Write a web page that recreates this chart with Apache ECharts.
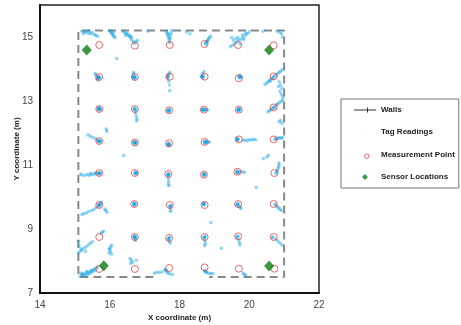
<!DOCTYPE html>
<html>
<head>
<meta charset="utf-8">
<script src="https://cdn.jsdelivr.net/npm/echarts@6/dist/echarts.min.js"></script>
<style>html,body{margin:0;padding:0;background:#fff}#c{width:461px;height:325px}</style>
</head>
<body>
<div id="c"></div>
<script>
// ---- data ----
var xTicks = [14, 16, 18, 20, 22];
var yTicks = [7, 9, 11, 13, 15];

var wallsMain = [[17.25, 7.5], [15.1, 7.5], [15.1, 15.2], [21.0, 15.2], [21.0, 7.5], [18.85, 7.5]];

var measurementPoints = [
  [15.70,14.75],[16.72,14.73],[17.72,14.75],[18.72,14.78],[19.68,14.75],[20.70,14.74],
  [15.70,13.75],[16.72,13.75],[17.72,13.76],[18.72,13.76],[19.70,13.71],[20.70,13.77],
  [15.70,12.75],[16.72,12.75],[17.70,12.71],[18.70,12.73],[19.70,12.73],[20.70,12.80],
  [15.70,11.75],[16.72,11.70],[17.70,11.68],[18.72,11.72],[19.70,11.80],[20.70,11.80],
  [15.70,10.75],[16.72,10.75],[17.68,10.72],[18.70,10.70],[19.66,10.79],[20.72,10.75],
  [15.70,9.75],[16.70,9.78],[17.72,9.75],[18.72,9.75],[19.68,9.78],[20.70,9.78],
  [15.70,8.75],[16.72,8.75],[17.70,8.72],[18.72,8.75],[19.68,8.77],[20.70,8.75],
  [15.70,7.75],[16.72,7.75],[17.70,7.78],[18.72,7.80],[19.70,7.76],[20.72,7.76]
];

var sensorLocations = [[15.34,14.59],[20.57,14.59],[15.83,7.85],[20.57,7.84]];

var tagReadings = [
  // top wall streaks and top row
  [15.20,15.18],[15.28,15.15],[15.33,15.17],[15.38,15.12],[15.45,15.10],[15.50,15.14],[15.55,15.08],[15.60,15.05],[15.42,15.19],[15.65,15.02],[15.25,15.10],
  [16.00,15.20],[16.03,15.15],[16.06,15.10],[16.09,15.05],[16.12,15.02],[16.15,14.98],[16.05,15.18],[16.10,15.12],
  [16.38,15.18],[16.42,15.14],[16.47,15.10],[16.52,15.06],[16.56,15.02],[16.60,14.96],[16.64,14.90],[16.68,14.84],[16.72,14.80],[16.50,15.12],[16.58,15.04],[16.45,15.05],[16.62,15.00],[16.75,14.86],[16.80,14.90],[16.20,14.33],
  [17.62,15.18],[17.64,15.12],[17.66,15.06],[17.68,15.00],[17.70,14.94],[17.71,14.88],[17.72,14.82],[17.78,15.20],[17.76,15.12],[17.74,15.04],[17.73,14.96],[17.69,15.10],
  [18.74,14.80],[18.77,14.85],[18.80,14.90],[18.83,14.94],[18.86,14.98],[18.89,15.02],[18.80,14.86],[18.76,14.78],
  [19.46,14.70],[19.52,14.74],[19.58,14.80],[19.64,14.84],[19.70,14.88],[19.76,14.93],[19.82,14.98],[19.88,15.04],[19.94,15.10],[20.00,15.16],[19.55,14.90],[19.62,14.95],[19.68,14.98],[19.74,14.78],[19.80,15.06],[19.85,14.92],[19.50,14.98],[19.90,15.12],
  [20.88,15.15],[20.92,15.10],[20.80,15.18],[20.95,15.00],
  [17.10,15.18],[18.20,15.16],[18.30,15.10],[20.40,15.18],
  // row 13.75
  [15.68,13.74],[15.66,13.72],[15.70,13.70],[15.64,13.76],[15.67,13.78],[15.72,13.73],[15.62,13.70],[15.60,13.82],[15.58,13.86],[15.65,13.66],[15.69,13.76],
  [16.70,13.75],[16.68,13.72],[16.72,13.77],[16.67,13.78],[16.71,13.70],[16.69,13.84],[16.68,13.90],[16.74,13.73],[16.66,13.74],
  [17.66,13.78],[17.68,13.81],[17.64,13.76],[17.70,13.84],[17.72,13.90],[17.66,13.72],[17.69,13.62],[17.71,13.50],[17.67,13.75],
  [18.66,13.77],[18.64,13.74],[18.68,13.80],[18.66,13.86],[18.70,13.92],[18.62,13.78],[18.68,13.72],[18.65,13.76],
  [19.72,13.78],[19.74,13.80],[19.70,13.76],[19.76,13.76],[19.78,13.74],[19.72,13.72],[19.73,13.75],
  [20.45,13.52],[20.50,13.56],[20.54,13.60],[20.58,13.64],[20.62,13.68],[20.66,13.72],[20.70,13.76],[20.74,13.79],[20.78,13.82],[20.82,13.86],[20.86,13.90],[20.90,13.93],[20.95,13.98],[20.60,13.62],[20.68,13.70],
  // row 12.75
  [15.70,12.75],[15.68,12.73],[15.72,12.77],[15.67,12.78],[15.71,12.71],[15.74,12.74],[15.66,12.75],[15.69,12.80],
  [16.73,12.74],[16.70,12.72],[16.75,12.70],[16.72,12.78],[16.70,12.76],[16.74,12.62],[16.76,12.52],[16.78,12.44],[16.77,12.38],
  [17.69,12.70],[17.67,12.72],[17.71,12.67],[17.66,12.68],[17.72,12.72],[17.70,12.74],
  [18.67,12.73],[18.65,12.75],[18.69,12.71],[18.66,12.70],[18.71,12.76],[18.76,12.74],[18.80,12.72],[18.74,12.71],
  [19.70,12.73],[19.68,12.75],[19.72,12.71],[19.69,12.70],[19.71,12.77],[19.73,12.74],[19.67,12.72],
  [20.54,12.66],[20.58,12.70],[20.62,12.73],[20.66,12.77],[20.70,12.80],[20.74,12.84],[20.78,12.88],[20.82,12.91],[20.86,12.95],[20.92,12.99],[20.96,13.03],[20.72,12.78],
  [20.86,13.60],[20.90,13.50],[20.94,13.40],[20.88,13.30],[20.92,13.20],[20.96,13.12],[20.84,13.45],[20.90,12.40],[20.94,12.30],[20.86,12.35],
  // row 11.75
  [15.70,11.75],[15.68,11.73],[15.72,11.77],[15.66,11.76],[15.71,11.71],[15.74,11.74],[15.65,11.78],[15.60,11.82],[15.52,11.86],[15.45,11.90],[15.38,11.94],[15.90,12.12],[15.92,12.05],
  [16.72,11.70],[16.70,11.68],[16.74,11.72],[16.69,11.71],[16.73,11.66],[16.76,11.69],[16.71,11.74],
  [17.69,11.66],[17.67,11.64],[17.71,11.62],[17.68,11.69],[17.70,11.60],[17.66,11.62],[17.72,11.65],
  [18.74,11.72],[18.72,11.70],[18.76,11.74],[18.73,11.68],[18.78,11.72],[18.82,11.71],[18.86,11.72],[18.71,11.74],
  [19.66,11.80],[19.64,11.78],[19.68,11.82],[19.65,11.83],[19.67,11.77],[19.82,11.77],[19.88,11.78],[19.94,11.76],[20.00,11.79],[20.06,11.78],[20.12,11.80],[20.18,11.79],
  [20.76,11.82],[20.80,11.83],[20.84,11.84],[20.88,11.85],[20.92,11.84],[20.96,11.86],[20.74,11.80],
  [20.40,11.20],[20.50,11.25],[20.55,11.30],
  // row 10.75
  [15.70,10.75],[15.68,10.73],[15.72,10.77],[15.66,10.76],[15.71,10.71],[15.73,10.74],[15.62,10.73],[15.55,10.70],[15.48,10.71],[15.42,10.68],[15.35,10.70],[15.28,10.67],[15.20,10.69],[15.16,10.72],[15.45,10.74],[15.58,10.76],
  [16.74,10.75],[16.76,10.77],[16.72,10.73],[16.75,10.72],[16.73,10.78],[16.78,10.74],
  [17.68,10.70],[17.66,10.68],[17.70,10.72],[17.67,10.73],[17.69,10.66],[17.68,10.58],[17.69,10.48],[17.68,10.40],[17.70,10.35],
  [18.70,10.70],[18.68,10.72],[18.72,10.68],[18.69,10.67],[18.71,10.74],[18.73,10.71],
  [19.66,10.78],[19.64,10.80],[19.68,10.76],[19.65,10.75],[19.67,10.81],[19.74,10.78],[19.80,10.79],[19.86,10.77],
  [20.78,10.78],[20.80,10.82],[20.82,10.88],[20.84,10.94],[20.86,11.00],[20.85,11.06],[20.76,10.74],
  // row 9.75
  [15.70,9.75],[15.68,9.73],[15.72,9.77],[15.67,9.77],[15.71,9.71],[15.73,9.80],[15.76,9.84],[15.62,9.68],[15.55,9.62],[15.48,9.57],[15.40,9.55],[15.33,9.50],[15.26,9.48],[15.20,9.45],[15.88,9.58],[15.92,9.52],[15.86,9.62],
  [16.70,9.78],[16.68,9.76],[16.72,9.80],[16.69,9.81],[16.71,9.74],[16.73,9.77],
  [17.74,9.72],[17.72,9.70],[17.76,9.74],[17.73,9.68],[17.75,9.60],[17.74,9.55],
  [18.70,9.78],[18.68,9.80],[18.72,9.76],[18.69,9.75],[18.71,9.82],
  [19.66,9.78],[19.64,9.76],[19.68,9.80],[19.67,9.74],[19.70,9.72],[19.74,9.68],[19.76,9.64],
  [20.76,9.74],[20.80,9.70],[20.84,9.66],[20.88,9.62],[20.92,9.58],[20.74,9.77],
  // row 8.75
  [15.78,8.90],[15.82,8.93],[15.75,8.86],
  [15.10,8.25],[15.15,8.30],[15.20,8.34],[15.26,8.40],[15.32,8.44],[15.38,8.50],[15.44,8.55],[15.50,8.60],[15.18,8.38],[15.30,8.30],[15.12,8.48],[15.10,8.62],
  [16.00,8.40],[16.03,8.44],[15.98,8.36],[16.05,8.50],
  [16.72,8.75],[16.70,8.73],[16.74,8.77],[16.71,8.78],[16.73,8.71],[16.69,8.76],[16.75,8.70],[16.73,8.64],
  [17.70,8.72],[17.68,8.70],[17.72,8.74],[17.69,8.68],[17.71,8.62],[17.73,8.56],
  [18.72,8.75],[18.70,8.73],[18.74,8.77],[18.71,8.70],[18.73,8.62],[18.74,8.54],[18.72,8.48],
  [19.66,8.76],[19.64,8.74],[19.68,8.78],[19.70,8.66],[19.72,8.58],[19.73,8.50],
  [20.68,8.75],[20.66,8.73],[20.76,8.68],[20.82,8.62],[20.88,8.56],[20.94,8.50],
  // row 7.75
  [15.15,7.52],[15.20,7.55],[15.25,7.58],[15.30,7.60],[15.35,7.63],[15.40,7.66],[15.45,7.69],[15.50,7.72],[15.55,7.75],[15.60,7.78],[15.65,7.80],[15.22,7.60],[15.28,7.54],[15.36,7.57],[15.42,7.61],[15.48,7.65],[15.33,7.68],[15.52,7.68],[15.58,7.71],[15.18,7.62],
  [15.98,8.25],[16.02,8.30],[16.05,8.22],
  [16.58,8.08],[16.62,8.02],[16.65,7.96],[16.60,7.93],[16.76,8.02],
  [17.62,7.72],[17.60,7.70],[17.64,7.68],[17.58,7.74],[17.50,7.66],[17.42,7.64],[17.35,7.65],[17.28,7.62],[17.66,7.62],[17.72,7.60],[17.80,7.58],
  [18.74,7.68],[18.76,7.66],[18.72,7.70],[18.78,7.64],[18.84,7.62],[18.90,7.60],[18.96,7.61],
  [19.82,7.62],[19.86,7.58],[19.90,7.55],
  // scattered
  [17.72,13.32],[19.20,8.40],[18.90,9.20],[16.40,11.30],[20.20,10.30]
];

// ---- chart ----
var chart = echarts.init(document.getElementById('c'), null, {renderer: 'canvas'});
var FF = 'Liberation Sans, Arial, sans-serif';
chart.setOption({
  animation: false,
  backgroundColor: '#fff',
  grid: {left: 40, right: 142, top: 5, bottom: 32, outerBoundsMode: 'none', containLabel: false,
         show: true, borderColor: '#222', borderWidth: 1.5, backgroundColor: 'transparent'},
  xAxis: {
    type: 'value', min: xTicks[0], max: xTicks[xTicks.length - 1], interval: 2,
    name: 'X coordinate (m)', nameLocation: 'middle', nameGap: 21, nameMoveOverlap: false,
    nameTextStyle: {fontFamily: FF, fontSize: 8, fontWeight: 'bold', color: '#222'},
    axisLine: {show: true, lineStyle: {color: '#111', width: 2}},
    axisTick: {show: false},
    splitLine: {show: false},
    axisLabel: {fontFamily: FF, fontSize: 10, color: '#444', margin: 7}
  },
  yAxis: {
    type: 'value', min: yTicks[0], max: 16, interval: 2,
    name: 'Y coordinate (m)', nameLocation: 'middle', nameGap: 19, nameMoveOverlap: false,
    nameTextStyle: {fontFamily: FF, fontSize: 8, fontWeight: 'bold', color: '#222'},
    axisLine: {show: true, lineStyle: {color: '#111', width: 2}},
    axisTick: {show: false},
    splitLine: {show: false},
    axisLabel: {fontFamily: FF, fontSize: 10, color: '#444', margin: 7, showMaxLabel: false}
  },
  legend: {
    orient: 'vertical', left: 341, top: 99,
    padding: [7, 4, 7, 13],
    itemGap: 14, itemWidth: 22, itemHeight: 8,
    borderColor: '#777', borderWidth: 1,
    textStyle: {fontFamily: FF, fontSize: 8, fontWeight: 'bold', color: '#222', lineHeight: 8},
    data: [
      {name: 'Walls', icon: 'path://M0,3.5 H22 V4.5 H0 Z M13,1.5 H14 V6.5 H13 Z', itemStyle: {color: '#333', borderWidth: 0}},
      {name: 'Tag Readings', icon: 'path://M0,0 M10,10 M5.7,5 A0.7,0.7 0 1,1 5.69,5 Z', itemStyle: {color: '#a8dcf2', borderWidth: 0}},
      {name: 'Measurement Point', icon: 'path://M0,0 M10,10 M8.2,5 A3.2,3.2 0 1,1 8.19,5 Z', itemStyle: {color: '#fff', borderColor: '#e0474c', borderWidth: 1}},
      {name: 'Sensor Locations', icon: 'path://M0,0 M10,10 M5,1.4 L8.6,5 L5,8.6 L1.4,5 Z', itemStyle: {color: '#0b7d12', borderWidth: 0}}
    ]
  },
  series: [
    {
      name: 'Walls', type: 'line', data: wallsMain, symbol: 'none', z: 1,
      lineStyle: {color: '#888', width: 2, type: [8, 5]},
      itemStyle: {color: '#333'}
    },
    {
      name: 'Tag Readings', type: 'scatter', data: tagReadings, symbol: 'circle', symbolSize: 3.6, z: 2,
      itemStyle: {color: 'rgba(10,160,225,0.55)'}
    },
    {
      name: 'Measurement Point', type: 'scatter', data: measurementPoints, symbol: 'circle', symbolSize: 7, z: 3,
      itemStyle: {color: 'rgba(255,255,255,0)', borderColor: '#e0474c', borderWidth: 1}
    },
    {
      name: 'Sensor Locations', type: 'scatter', data: sensorLocations, symbol: 'diamond', symbolSize: [10, 11], z: 4,
      itemStyle: {color: '#0b7d12'}
    }
  ]
});
</script>
</body>
</html>
